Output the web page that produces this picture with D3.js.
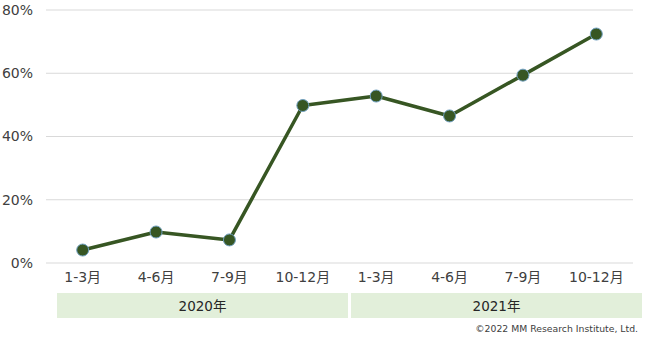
<!DOCTYPE html>
<html>
<head>
<meta charset="utf-8">
<script src="https://cdn.jsdelivr.net/npm/d3@7"></script>
<style>
  body { margin: 0; background: #fff; }
  text { font-family: "DejaVu Sans", "Noto Sans CJK JP", sans-serif; }
</style>
</head>
<body>
<div class="chart"></div>
<script>
// Data
const quarters = ['1-3月', '4-6月', '7-9月', '10-12月', '1-3月', '4-6月', '7-9月', '10-12月'];
const years = ['2020年', '2021年'];
const values = [4.1, 9.8, 7.3, 49.8, 52.8, 46.5, 59.4, 72.4];
const yTicks = [0, 20, 40, 60, 80];

const width = 665;
const height = 343;
const margin = { top: 10, right: 32, bottom: 80, left: 46 };

const svg = d3.select('.chart')
  .append('svg')
  .attr('width', width)
  .attr('height', height);

const idx = quarters.map((d, i) => i);

const x = d3.scaleBand()
  .domain(idx)
  .range([margin.left, width - margin.right]);

const y = d3.scaleLinear()
  .domain([0, 80])
  .range([height - margin.bottom, margin.top]);

// Gridlines
svg.append('g')
  .selectAll('line')
  .data(yTicks)
  .enter()
  .append('line')
  .attr('x1', margin.left)
  .attr('x2', width - margin.right)
  .attr('y1', d => y(d))
  .attr('y2', d => y(d))
  .attr('stroke', '#d9d9d9')
  .attr('stroke-width', 1);

// Y labels
svg.append('g')
  .selectAll('text')
  .data(yTicks)
  .enter()
  .append('text')
  .attr('x', 33)
  .attr('y', d => y(d))
  .attr('dy', '0.35em')
  .attr('text-anchor', 'end')
  .attr('font-size', 14)
  .attr('fill', '#404040')
  .text(d => d + '%');

// Quarter labels
svg.append('g')
  .selectAll('text')
  .data(idx)
  .enter()
  .append('text')
  .attr('x', d => x(d) + x.bandwidth() / 2)
  .attr('y', 282)
  .attr('text-anchor', 'middle')
  .attr('font-size', 14)
  .attr('fill', '#404040')
  .text(d => quarters[d]);

// Year bands
const yearX = d3.scaleBand()
  .domain(years)
  .range([57, 642])
  .paddingInner(0.0103);

const yearG = svg.append('g')
  .selectAll('g')
  .data(years)
  .enter()
  .append('g');

yearG.append('rect')
  .attr('x', d => yearX(d))
  .attr('y', 293)
  .attr('width', yearX.bandwidth())
  .attr('height', 25)
  .attr('fill', '#e2efda');

yearG.append('text')
  .attr('x', d => yearX(d) + yearX.bandwidth() / 2)
  .attr('y', 306)
  .attr('dy', '0.35em')
  .attr('text-anchor', 'middle')
  .attr('font-size', 13.5)
  .attr('fill', '#262626')
  .text(d => d);

// Line
const line = d3.line()
  .x((d, i) => x(i) + x.bandwidth() / 2)
  .y(d => y(d));

svg.append('path')
  .datum(values)
  .attr('d', line)
  .attr('fill', 'none')
  .attr('stroke', '#375623')
  .attr('stroke-width', 3.5)
  .attr('stroke-linejoin', 'round');

svg.append('g')
  .selectAll('circle')
  .data(values)
  .enter()
  .append('circle')
  .attr('cx', (d, i) => x(i) + x.bandwidth() / 2)
  .attr('cy', d => y(d))
  .attr('r', 6)
  .attr('fill', '#375623')
  .attr('stroke', '#6f9fc0')
  .attr('stroke-width', 1);

// Credit
svg.append('text')
  .attr('x', 638)
  .attr('y', 332)
  .attr('text-anchor', 'end')
  .attr('font-size', 9.3)
  .attr('fill', '#404040')
  .text('©2022 MM Research Institute, Ltd.');
</script>
</body>
</html>
